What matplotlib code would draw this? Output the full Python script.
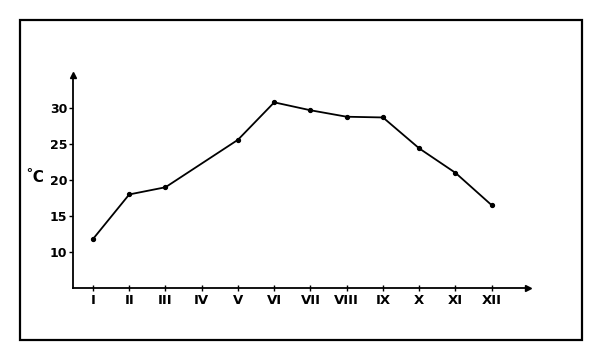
import matplotlib.pyplot as plt
from matplotlib.patches import Rectangle

# monthly mean temperature, month IV has no point on the original
months = [1, 2, 3, 5, 6, 7, 8, 9, 10, 11, 12]
temps = [11.8, 18.0, 19.0, 25.6, 30.8, 29.7, 28.8, 28.7, 24.4, 21.0, 16.5]
month_labels = ['I', 'II', 'III', 'IV', 'V', 'VI', 'VII', 'VIII', 'IX', 'X', 'XI', 'XII']
yticks = [10, 15, 20, 25, 30]

fig = plt.figure(figsize=(6, 3.57), dpi=100)
fig.patches.append(Rectangle((0.0333, 0.0476), 0.9367, 0.8964, transform=fig.transFigure,
                             fill=False, lw=1.6, color='black'))

ax = fig.add_axes([0.1217, 0.1933, 0.7583, 0.5966])
ax.plot(months, temps, color='black', lw=1.3, marker='o', ms=2.8)

ax.set_xlim(0.45, 13.0)
ax.set_ylim(5, 34.6)
ax.set_xticks(range(1, 13))
ax.set_xticklabels(month_labels, fontsize=9.5, fontweight='bold')
ax.set_yticks(yticks)
ax.set_yticklabels(yticks, fontsize=9, fontweight='bold')
ax.tick_params(axis='x', direction='inout', length=5, width=1, pad=2)
ax.tick_params(axis='y', direction='out', length=3, width=1, pad=1)

for s in ['top', 'right']:
    ax.spines[s].set_visible(False)
for s in ['left', 'bottom']:
    ax.spines[s].set_linewidth(1.3)

# arrow heads at the axis ends
ax.plot(1, 0, '>', color='black', ms=4, transform=ax.transAxes, clip_on=False)
ax.plot(0, 1, '^', color='black', ms=4, transform=ax.transAxes, clip_on=False)

fig.text(35 / 600, 1 - 178 / 357, '˚C', fontsize=11, fontweight='bold', ha='center', va='center')

fig.savefig('out.png')
